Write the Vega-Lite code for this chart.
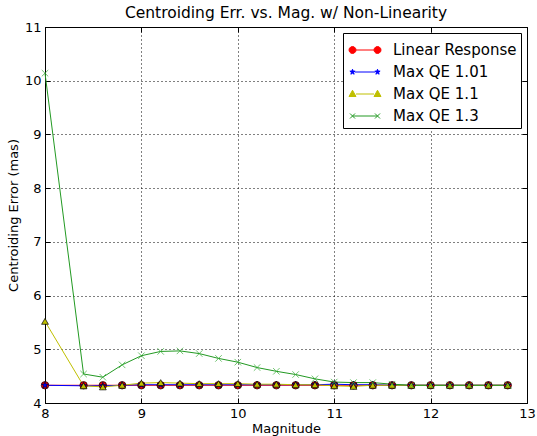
{
  "$schema": "https://vega.github.io/schema/vega-lite/v6.json",
  "width": 482,
  "height": 376,
  "autosize": {"type": "none"},
  "padding": {"left": 45, "top": 27, "right": 10, "bottom": 33},
  "background": "white",
  "title": {"text": "Centroiding Err. vs. Mag. w/ Non-Linearity", "fontSize": 15.5, "font": "DejaVu Sans", "fontWeight": "normal", "color": "black", "anchor": "middle", "offset": 0},
  "datasets": {
    "pts": [
      {"series": "Linear Response", "mag": 8.0, "err": 4.33},
      {"series": "Linear Response", "mag": 8.4, "err": 4.33},
      {"series": "Linear Response", "mag": 8.6, "err": 4.33},
      {"series": "Linear Response", "mag": 8.8, "err": 4.33},
      {"series": "Linear Response", "mag": 9.0, "err": 4.33},
      {"series": "Linear Response", "mag": 9.2, "err": 4.33},
      {"series": "Linear Response", "mag": 9.4, "err": 4.33},
      {"series": "Linear Response", "mag": 9.6, "err": 4.33},
      {"series": "Linear Response", "mag": 9.8, "err": 4.33},
      {"series": "Linear Response", "mag": 10.0, "err": 4.33},
      {"series": "Linear Response", "mag": 10.2, "err": 4.33},
      {"series": "Linear Response", "mag": 10.4, "err": 4.33},
      {"series": "Linear Response", "mag": 10.6, "err": 4.33},
      {"series": "Linear Response", "mag": 10.8, "err": 4.33},
      {"series": "Linear Response", "mag": 11.0, "err": 4.33},
      {"series": "Linear Response", "mag": 11.2, "err": 4.33},
      {"series": "Linear Response", "mag": 11.4, "err": 4.33},
      {"series": "Linear Response", "mag": 11.6, "err": 4.33},
      {"series": "Linear Response", "mag": 11.8, "err": 4.33},
      {"series": "Linear Response", "mag": 12.0, "err": 4.33},
      {"series": "Linear Response", "mag": 12.2, "err": 4.33},
      {"series": "Linear Response", "mag": 12.4, "err": 4.33},
      {"series": "Linear Response", "mag": 12.6, "err": 4.33},
      {"series": "Linear Response", "mag": 12.8, "err": 4.33},
      {"series": "Max QE 1.01", "mag": 8.0, "err": 4.33},
      {"series": "Max QE 1.01", "mag": 8.4, "err": 4.32},
      {"series": "Max QE 1.01", "mag": 8.6, "err": 4.32},
      {"series": "Max QE 1.01", "mag": 8.8, "err": 4.33},
      {"series": "Max QE 1.01", "mag": 9.0, "err": 4.34},
      {"series": "Max QE 1.01", "mag": 9.2, "err": 4.34},
      {"series": "Max QE 1.01", "mag": 9.4, "err": 4.34},
      {"series": "Max QE 1.01", "mag": 9.6, "err": 4.34},
      {"series": "Max QE 1.01", "mag": 9.8, "err": 4.34},
      {"series": "Max QE 1.01", "mag": 10.0, "err": 4.34},
      {"series": "Max QE 1.01", "mag": 10.2, "err": 4.34},
      {"series": "Max QE 1.01", "mag": 10.4, "err": 4.34},
      {"series": "Max QE 1.01", "mag": 10.6, "err": 4.34},
      {"series": "Max QE 1.01", "mag": 10.8, "err": 4.34},
      {"series": "Max QE 1.01", "mag": 11.0, "err": 4.35},
      {"series": "Max QE 1.01", "mag": 11.2, "err": 4.34},
      {"series": "Max QE 1.01", "mag": 11.4, "err": 4.34},
      {"series": "Max QE 1.01", "mag": 11.6, "err": 4.33},
      {"series": "Max QE 1.01", "mag": 11.8, "err": 4.33},
      {"series": "Max QE 1.01", "mag": 12.0, "err": 4.33},
      {"series": "Max QE 1.01", "mag": 12.2, "err": 4.33},
      {"series": "Max QE 1.01", "mag": 12.4, "err": 4.33},
      {"series": "Max QE 1.01", "mag": 12.6, "err": 4.33},
      {"series": "Max QE 1.01", "mag": 12.8, "err": 4.33},
      {"series": "Max QE 1.1", "mag": 8.0, "err": 5.52},
      {"series": "Max QE 1.1", "mag": 8.4, "err": 4.32},
      {"series": "Max QE 1.1", "mag": 8.6, "err": 4.30},
      {"series": "Max QE 1.1", "mag": 8.8, "err": 4.33},
      {"series": "Max QE 1.1", "mag": 9.0, "err": 4.37},
      {"series": "Max QE 1.1", "mag": 9.2, "err": 4.38},
      {"series": "Max QE 1.1", "mag": 9.4, "err": 4.37},
      {"series": "Max QE 1.1", "mag": 9.6, "err": 4.36},
      {"series": "Max QE 1.1", "mag": 9.8, "err": 4.36},
      {"series": "Max QE 1.1", "mag": 10.0, "err": 4.36},
      {"series": "Max QE 1.1", "mag": 10.2, "err": 4.35},
      {"series": "Max QE 1.1", "mag": 10.4, "err": 4.35},
      {"series": "Max QE 1.1", "mag": 10.6, "err": 4.34},
      {"series": "Max QE 1.1", "mag": 10.8, "err": 4.34},
      {"series": "Max QE 1.1", "mag": 11.0, "err": 4.32},
      {"series": "Max QE 1.1", "mag": 11.2, "err": 4.31},
      {"series": "Max QE 1.1", "mag": 11.4, "err": 4.33},
      {"series": "Max QE 1.1", "mag": 11.6, "err": 4.33},
      {"series": "Max QE 1.1", "mag": 11.8, "err": 4.33},
      {"series": "Max QE 1.1", "mag": 12.0, "err": 4.33},
      {"series": "Max QE 1.1", "mag": 12.2, "err": 4.33},
      {"series": "Max QE 1.1", "mag": 12.4, "err": 4.33},
      {"series": "Max QE 1.1", "mag": 12.6, "err": 4.33},
      {"series": "Max QE 1.1", "mag": 12.8, "err": 4.33},
      {"series": "Max QE 1.3", "mag": 8.0, "err": 10.14},
      {"series": "Max QE 1.3", "mag": 8.4, "err": 4.54},
      {"series": "Max QE 1.3", "mag": 8.6, "err": 4.48},
      {"series": "Max QE 1.3", "mag": 8.8, "err": 4.71},
      {"series": "Max QE 1.3", "mag": 9.0, "err": 4.88},
      {"series": "Max QE 1.3", "mag": 9.2, "err": 4.96},
      {"series": "Max QE 1.3", "mag": 9.4, "err": 4.97},
      {"series": "Max QE 1.3", "mag": 9.6, "err": 4.92},
      {"series": "Max QE 1.3", "mag": 9.8, "err": 4.83},
      {"series": "Max QE 1.3", "mag": 10.0, "err": 4.76},
      {"series": "Max QE 1.3", "mag": 10.2, "err": 4.66},
      {"series": "Max QE 1.3", "mag": 10.4, "err": 4.59},
      {"series": "Max QE 1.3", "mag": 10.6, "err": 4.53},
      {"series": "Max QE 1.3", "mag": 10.8, "err": 4.45},
      {"series": "Max QE 1.3", "mag": 11.0, "err": 4.39},
      {"series": "Max QE 1.3", "mag": 11.2, "err": 4.38},
      {"series": "Max QE 1.3", "mag": 11.4, "err": 4.38},
      {"series": "Max QE 1.3", "mag": 11.6, "err": 4.35},
      {"series": "Max QE 1.3", "mag": 11.8, "err": 4.33},
      {"series": "Max QE 1.3", "mag": 12.0, "err": 4.33},
      {"series": "Max QE 1.3", "mag": 12.2, "err": 4.33},
      {"series": "Max QE 1.3", "mag": 12.4, "err": 4.33},
      {"series": "Max QE 1.3", "mag": 12.6, "err": 4.33},
      {"series": "Max QE 1.3", "mag": 12.8, "err": 4.33}
    ]
  },
  "data": {"name": "pts"},
  "encoding": {
    "x": {"field": "mag", "type": "quantitative", "scale": {"domain": [8, 13], "nice": false, "zero": false},
          "axis": {"title": "Magnitude", "values": [8, 9, 10, 11, 12, 13], "format": "d", "labelFlush": false, "titlePadding": 2}},
    "y": {"field": "err", "type": "quantitative", "scale": {"domain": [4, 11], "nice": false, "zero": false},
          "axis": {"title": "Centroiding Error (mas)", "values": [4, 5, 6, 7, 8, 9, 10, 11], "format": "d", "labelFlush": false, "titlePadding": 4}}
  },
  "layer": [
    {
      "mark": {"type": "line", "strokeWidth": 1},
      "encoding": {
        "color": {"field": "series", "type": "nominal", "legend": null,
                  "scale": {"domain": ["Linear Response", "Max QE 1.01", "Max QE 1.1", "Max QE 1.3"], "range": ["#ff0000", "#0000ff", "#bfbf00", "#229922"]}}
      }
    },
    {
      "mark": {"type": "point", "filled": true, "opacity": 1, "strokeWidth": 0.7},
      "encoding": {
        "x": {"field": "mag", "type": "quantitative",
              "axis": {"orient": "top", "labels": false, "title": null, "grid": false, "domain": false, "values": [8, 9, 10, 11, 12, 13]}},
        "y": {"field": "err", "type": "quantitative",
              "axis": {"orient": "right", "labels": false, "title": null, "grid": false, "domain": false, "values": [4, 5, 6, 7, 8, 9, 10, 11]}},
        "fill": {"field": "series", "type": "nominal", "legend": null,
                 "scale": {"domain": ["Linear Response", "Max QE 1.01", "Max QE 1.1", "Max QE 1.3"], "range": ["#ff0000", "#0000ff", "#bfbf00", "#ffffff00"]}},
        "stroke": {"field": "series", "type": "nominal", "legend": null,
                   "scale": {"domain": ["Linear Response", "Max QE 1.01", "Max QE 1.1", "Max QE 1.3"], "range": ["#000000", "#000033", "#000000", "#33aa33"]}},
        "shape": {"field": "series", "type": "nominal", "legend": null,
                  "scale": {"domain": ["Linear Response", "Max QE 1.01", "Max QE 1.1", "Max QE 1.3"], "range": ["circle", "M0,-1L0.235,-0.324L0.951,-0.309L0.38,0.124L0.588,0.809L0,0.4L-0.588,0.809L-0.38,0.124L-0.951,-0.309L-0.235,-0.324Z", "triangle-up", "M-1,-1L1,1M-1,1L1,-1"]}},
        "size": {"field": "series", "type": "nominal", "legend": null,
                 "scale": {"domain": ["Linear Response", "Max QE 1.01", "Max QE 1.1", "Max QE 1.3"], "range": [56, 42, 56, 36]}}
      }
    },
    {
      "mark": {"type": "point", "filled": true, "opacity": 1, "strokeWidth": 1, "size": 0},
      "encoding": {
        "x": {"field": "mag", "type": "quantitative", "axis": null},
        "y": {"field": "err", "type": "quantitative", "axis": null},
        "fill": {"field": "series", "type": "nominal", "title": null,
                 "scale": {"domain": ["Linear Response", "Max QE 1.01", "Max QE 1.1", "Max QE 1.3"], "range": ["#ff0000", "#0000ff", "#bfbf00", "#ffffff00"]}},
        "stroke": {"field": "series", "type": "nominal", "title": null,
                   "scale": {"domain": ["Linear Response", "Max QE 1.01", "Max QE 1.1", "Max QE 1.3"], "range": ["#ff0000", "#0000ff", "#bfbf00", "#229922"]}},
        "shape": {"field": "series", "type": "nominal", "title": null,
                  "scale": {"domain": ["Linear Response", "Max QE 1.01", "Max QE 1.1", "Max QE 1.3"],
                            "range": [
                              "M-0.72,0L0.72,0M-0.72,0L-0.7575,0.14L-0.86,0.2425L-1,0.28L-1.14,0.2425L-1.2425,0.14L-1.28,0L-1.2425,-0.14L-1.14,-0.2425L-1,-0.28L-0.86,-0.2425L-0.7575,-0.14ZM1.28,0L1.2425,0.14L1.14,0.2425L1,0.28L0.86,0.2425L0.7575,0.14L0.72,0L0.7575,-0.14L0.86,-0.2425L1,-0.28L1.14,-0.2425L1.2425,-0.14Z",
                              "M-0.8,0L0.8,0M-1,-0.22L-0.947,-0.073L-0.791,-0.068L-0.914,0.028L-0.871,0.178L-1,0.09L-1.129,0.178L-1.086,0.028L-1.209,-0.068L-1.053,-0.073ZM1,-0.22L1.053,-0.073L1.209,-0.068L1.086,0.028L1.129,0.178L1,0.09L0.871,0.178L0.914,0.028L0.791,-0.068L0.947,-0.073Z",
                              "M-0.72,0L0.72,0M-1,-0.3L-0.72,0.2L-1.28,0.2ZM1,-0.3L1.28,0.2L0.72,0.2Z",
                              "M-1,0L1,0M-1.2,-0.2L-0.8,0.2M-1.2,0.2L-0.8,-0.2M0.8,-0.2L1.2,0.2M0.8,0.2L1.2,-0.2"
                            ]},
                  "legend": {"orient": "top-right", "offset": 6, "symbolSize": 625, "symbolStrokeWidth": 1, "labelFontSize": 15, "labelColor": "black", "labelOffset": 15, "padding": 4, "symbolOffset": 5, "rowPadding": 1, "strokeColor": "black", "fillColor": "white", "symbolOpacity": 1, "labelLimit": 300}}
      }
    }
  ],
  "resolve": {"scale": {"fill": "independent", "stroke": "independent", "shape": "independent"}, "axis": {"x": "independent", "y": "independent"}},
  "config": {
    "font": "DejaVu Sans",
    "view": {"stroke": "black", "strokeWidth": 1},
    "axis": {"domainColor": "black", "tickColor": "black", "labelColor": "black", "titleColor": "black",
             "labelFontSize": 13, "titleFontSize": 13, "titleFontWeight": "normal",
             "gridColor": "black", "gridDash": [1, 3], "gridOpacity": 1, "gridWidth": 1, "tickSize": -5, "labelPadding": 9}
  }
}
